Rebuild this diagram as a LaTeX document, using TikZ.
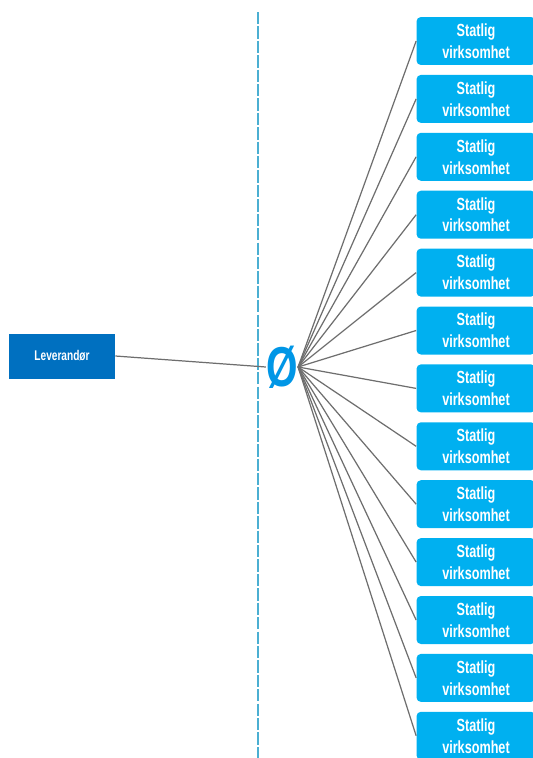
\documentclass[tikz,border=0pt]{standalone}
\usepackage{fontspec}
\setmainfont{Liberation Sans}
\newfontfamily\narrowfont[FakeStretch=0.72]{Liberation Sans}
\usetikzlibrary{positioning}
\definecolor{levcolor}{RGB}{0,112,192}
\definecolor{unitcolor}{RGB}{0,176,240}
\definecolor{hubcolor}{RGB}{0,150,230}
\definecolor{splitcolor}{RGB}{75,175,210}
\definecolor{linkcolor}{RGB}{110,110,110}

\begin{document}
\begin{tikzpicture}[x=0.02cm,y=-0.02cm,
    unitbox/.style={fill=unitcolor,rounded corners=2.5pt,minimum width=2.38cm,
      minimum height=0.96cm,inner sep=0pt,align=center,text=white,
      font=\narrowfont\bfseries\fontsize{10}{12.5}\selectfont},
    levbox/.style={fill=levcolor,minimum width=2.12cm,minimum height=0.9cm,
      inner sep=0pt,text=white,font=\narrowfont\bfseries\fontsize{8}{9}\selectfont},
    link/.style={linkcolor,line width=0.7pt}]
        \clip (0,0) rectangle (533,758);

        % split line
        \draw[splitcolor,line width=0.8pt,dash pattern=on 7pt off 1.2pt] (258,12) -- (258,758);

        % supplier and hub
        \node[levbox] (lev) at (62,356) {Leverandør};
        \node[hubcolor,inner sep=0pt,font=\narrowfont\bfseries\fontsize{32}{32}\selectfont] (hub) at (282,367) {Ø};
        \draw[link] (lev.east) -- (hub.west);

        % state units
        \foreach \k in {1,...,13} {
          \node[unitbox] (unit\k) at (476,{41+57.9*(\k-1)}) {Statlig\\virksomhet};
          \draw[link] (hub.east) -- (unit\k.west);
        }
\end{tikzpicture}
\end{document}
